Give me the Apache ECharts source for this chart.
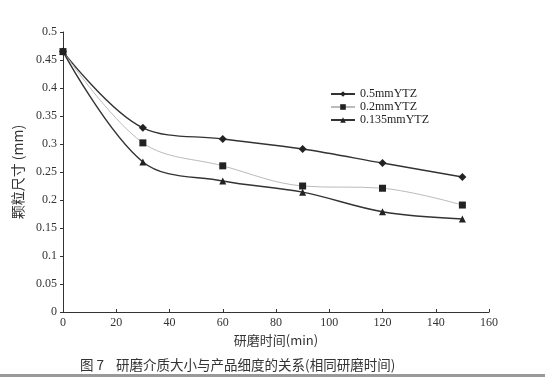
<!DOCTYPE html>
<html>
<head>
<meta charset="utf-8">
<script src="https://cdn.jsdelivr.net/npm/echarts@6/dist/echarts.min.js"></script>
<style>
  html, body { margin: 0; padding: 0; background: #fff; }
  #chart { width: 545px; height: 377px; }
</style>
</head>
<body>
<div id="chart"></div>
<script>
// 研磨时间 (min)
const times = [0, 30, 60, 90, 120, 150]
// 颗粒尺寸 (mm)
const ytz05 = [0.465, 0.329, 0.309, 0.291, 0.266, 0.241]
const ytz02 = [0.465, 0.302, 0.261, 0.225, 0.221, 0.191]
const ytz0135 = [0.465, 0.268, 0.234, 0.214, 0.179, 0.166]

const serif = '"Liberation Serif", "DejaVu Serif", serif'
const cjk = '"Noto Sans CJK SC", sans-serif'

function pairs(vals) {
  return times.map((t, i) => [t, vals[i]])
}

const chart = echarts.init(document.getElementById('chart'))
const option = {
  backgroundColor: '#fff',
  animation: false,
  grid: { left: 63, right: 56, top: 32, bottom: 65 },
  legend: {
    orient: 'vertical',
    left: 325,
    top: 83,
    itemWidth: 24,
    itemHeight: 7,
    itemGap: 1,
    textStyle: { fontFamily: serif, fontSize: 12, color: '#222' },
    data: ['0.5mmYTZ', '0.2mmYTZ', '0.135mmYTZ']
  },
  xAxis: {
    type: 'value',
    min: 0,
    max: 160,
    interval: 20,
    name: '研磨时间(min)',
    nameLocation: 'middle',
    nameGap: 22,
    nameTextStyle: { fontFamily: cjk, fontSize: 13, color: '#333' },
    axisLine: { lineStyle: { color: '#333', width: 1 } },
    axisTick: { inside: true, length: 3, lineStyle: { color: '#333' } },
    axisLabel: { fontFamily: serif, fontSize: 12, color: '#333', margin: 5 },
    splitLine: { show: false }
  },
  yAxis: {
    type: 'value',
    min: 0,
    max: 0.5,
    interval: 0.05,
    name: '颗粒尺寸 (mm)',
    nameLocation: 'middle',
    nameGap: 28,
    nameTextStyle: { fontFamily: cjk, fontSize: 14, color: '#333' },
    axisLine: { show: true, lineStyle: { color: '#333', width: 1 } },
    axisTick: { show: true, length: 3, lineStyle: { color: '#333' } },
    axisLabel: { fontFamily: serif, fontSize: 12, color: '#333', margin: 6 },
    splitLine: { show: false }
  },
  series: [
    {
      name: '0.5mmYTZ',
      type: 'line',
      smooth: 0.35,
      data: pairs(ytz05),
      symbol: 'diamond',
      symbolSize: 8,
      lineStyle: { color: '#333', width: 1.4 },
      itemStyle: { color: '#222' }
    },
    {
      name: '0.2mmYTZ',
      type: 'line',
      smooth: 0.35,
      data: pairs(ytz02),
      symbol: 'rect',
      symbolSize: 7,
      lineStyle: { color: '#bbb', width: 1 },
      itemStyle: { color: '#222' }
    },
    {
      name: '0.135mmYTZ',
      type: 'line',
      smooth: 0.35,
      data: pairs(ytz0135),
      symbol: 'triangle',
      symbolSize: 7,
      lineStyle: { color: '#333', width: 1.4 },
      itemStyle: { color: '#222' }
    }
  ],
  graphic: [
    {
      type: 'text',
      left: 80,
      top: 358,
      style: {
        text: '图 7    研磨介质大小与产品细度的关系(相同研磨时间)',
        font: '13.5px "Noto Sans CJK SC", sans-serif',
        fill: '#333'
      }
    },
    {
      type: 'rect',
      shape: { x: 0, y: 374, width: 545, height: 3 },
      style: { fill: '#999' }
    }
  ]
}
chart.setOption(option)
</script>
</body>
</html>
